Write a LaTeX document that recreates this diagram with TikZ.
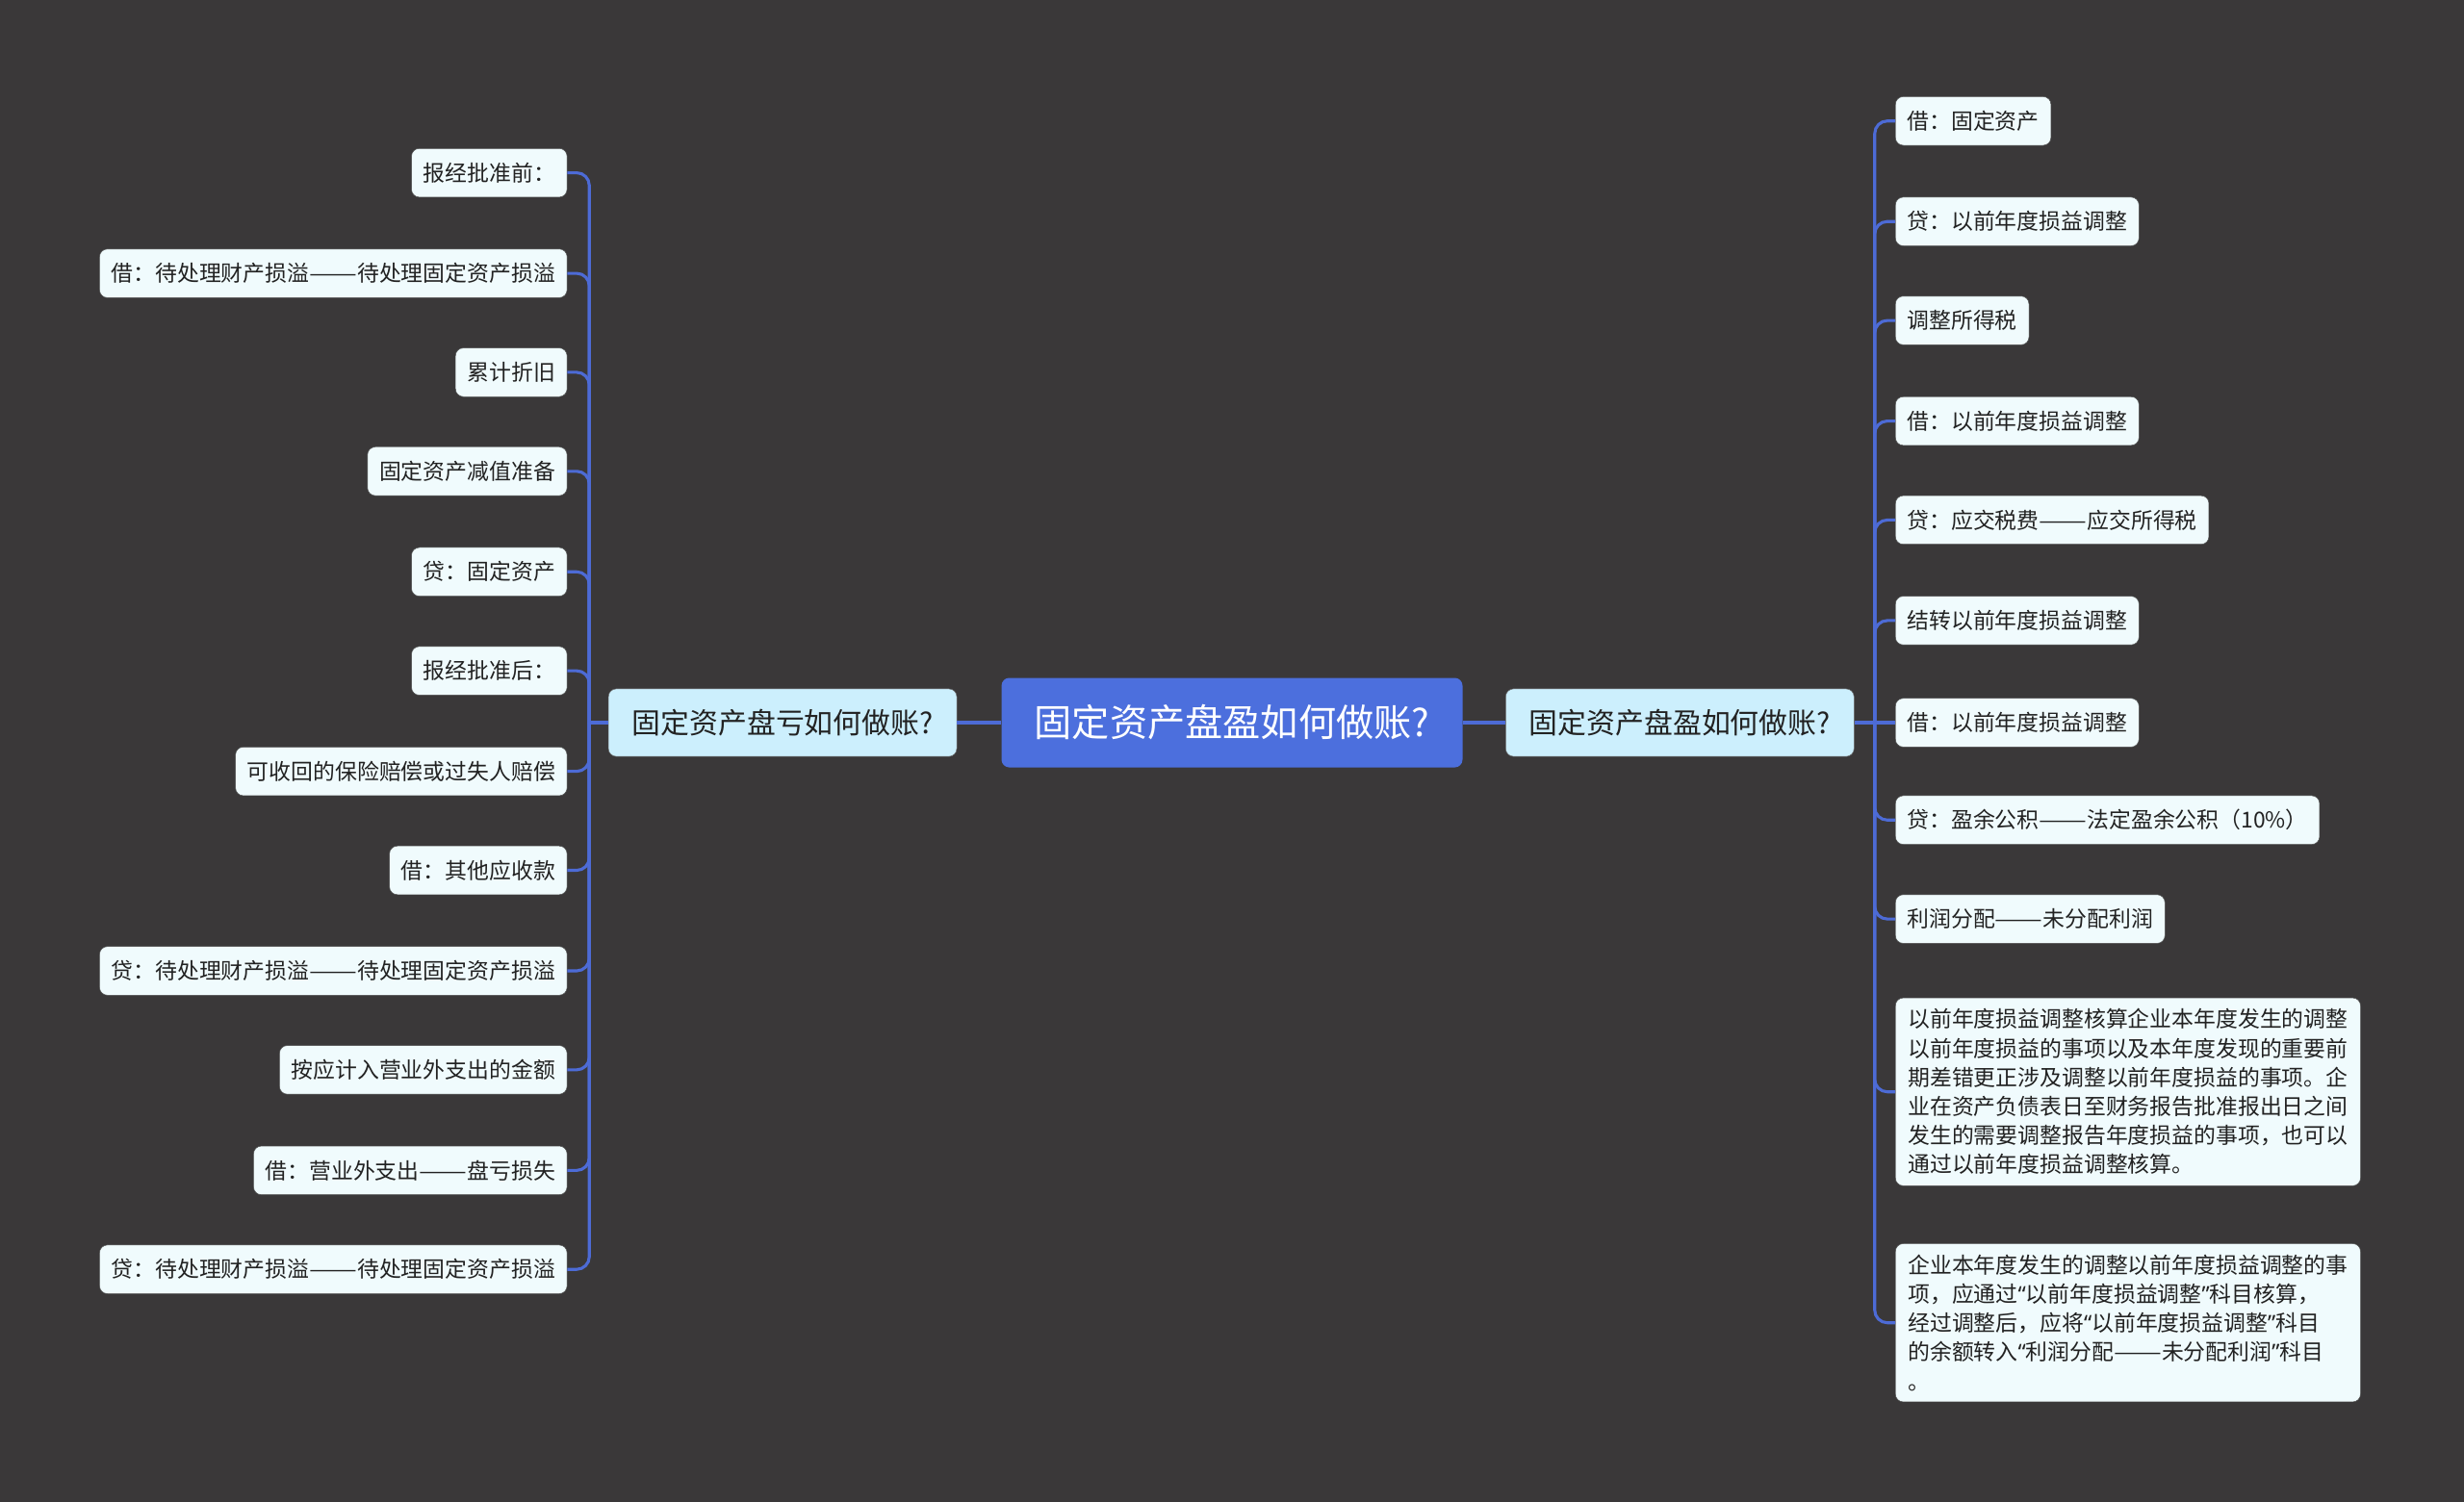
\documentclass[tikz,border=0pt]{standalone}
\usepackage{fontspec}
\usepackage{graphicx}
\setmainfont{Noto Sans CJK SC}
\newfontfamily\latinf{Noto Sans}
\newcommand{\dd}{\scalebox{1.3}[1]{——}}
\newcommand{\myoq}{{\latinf “}}
\newcommand{\mycq}{{\latinf ”}}
\definecolor{bg}{HTML}{3A3839}
\definecolor{rootblue}{HTML}{4C6FDD}
\definecolor{mainfill}{HTML}{CCEFFD}
\definecolor{leaffill}{HTML}{F0FBFD}
\definecolor{connblue}{HTML}{4D6BD6}
\definecolor{txt}{HTML}{222222}
\tikzset{
  leaf/.style={fill=leaffill, draw=black!70, line width=0.3pt, rounded corners=5pt, text=txt,
    font=\fontsize{14}{18.5}\selectfont, inner xsep=7.5pt, inner ysep=0pt, minimum height=31pt},
  para/.style={fill=leaffill, draw=black!70, line width=0.3pt, rounded corners=5pt, text=txt,
    font=\fontsize{14}{18.5}\selectfont, inner xsep=8pt, inner ysep=7pt, align=left},
  mainnode/.style={fill=mainfill, draw=black!60, line width=0.3pt, rounded corners=5pt, text=txt,
    font=\fontsize{18.3}{22}\selectfont, inner xsep=15pt, inner ysep=0pt, minimum height=43pt},
  rootnode/.style={fill=rootblue, rounded corners=5pt, text=white,
    font=\fontsize{24}{28}\selectfont, inner xsep=21pt, inner ysep=0pt, minimum height=57pt},
  conn/.style={draw=connblue, line width=1.9pt, rounded corners=8pt},
}
\begin{document}
\begin{tikzpicture}[x=1pt,y=-1pt]
\useasboundingbox[fill=bg] (0,0) rectangle (1568,956);
% center and main nodes
\node[rootnode] (root) at (784,460) {固定资产盘盈如何做账?};
\node[mainnode, anchor=east] (lm) at (609,460) {固定资产盘亏如何做账?};
\node[mainnode, anchor=west] (rm) at (958,460) {固定资产盘盈如何做账?};
% left leaves
\node[leaf, anchor=east] (l1) at (361,110) {报经批准前：};
\node[leaf, anchor=east] (l2) at (361,174) {借：待处理财产损溢\dd 待处理固定资产损溢};
\node[leaf, anchor=east] (l3) at (361,237) {累计折旧};
\node[leaf, anchor=east] (l4) at (361,300) {固定资产减值准备};
\node[leaf, anchor=east] (l5) at (361,364) {贷：固定资产};
\node[leaf, anchor=east] (l6) at (361,427) {报经批准后：};
\node[leaf, anchor=east] (l7) at (361,491) {可收回的保险赔偿或过失人赔偿};
\node[leaf, anchor=east] (l8) at (361,554) {借：其他应收款};
\node[leaf, anchor=east] (l9) at (361,618) {贷：待处理财产损溢\dd 待处理固定资产损溢};
\node[leaf, anchor=east] (l10) at (361,681) {按应计入营业外支出的金额};
\node[leaf, anchor=east] (l11) at (361,745) {借：营业外支出\dd 盘亏损失};
\node[leaf, anchor=east] (l12) at (361,808) {贷：待处理财产损溢\dd 待处理固定资产损溢};
% right leaves
\node[leaf, anchor=west] (r1) at (1206,77) {借：固定资产};
\node[leaf, anchor=west] (r2) at (1206,141) {贷：以前年度损益调整};
\node[leaf, anchor=west] (r3) at (1206,204) {调整所得税};
\node[leaf, anchor=west] (r4) at (1206,268) {借：以前年度损益调整};
\node[leaf, anchor=west] (r5) at (1206,331) {贷：应交税费\dd 应交所得税};
\node[leaf, anchor=west] (r6) at (1206,395) {结转以前年度损益调整};
\node[leaf, anchor=west] (r7) at (1206,460) {借：以前年度损益调整};
\node[leaf, anchor=west] (r8) at (1206,522) {贷：盈余公积\dd 法定盈余公积（10\%）};
\node[leaf, anchor=west] (r9) at (1206,585) {利润分配\dd 未分配利润};
\node[para, anchor=west] (r10) at (1206,695) {以前年度损益调整核算企业本年度发生的调整\\以前年度损益的事项以及本年度发现的重要前\\期差错更正涉及调整以前年度损益的事项。企\\业在资产负债表日至财务报告批准报出日之间\\发生的需要调整报告年度损益的事项，也可以\\通过以前年度损益调整核算。};
\node[para, anchor=west] (r11) at (1206,842) {企业本年度发生的调整以前年度损益调整的事\\项，应通过\myoq 以前年度损益调整\mycq 科目核算，\\经过调整后，应将\myoq 以前年度损益调整\mycq 科目\\的余额转入\myoq 利润分配\dd 未分配利润\mycq 科目\\。};
% connectors
\draw[conn] (root.west) -- (lm.east);
\draw[conn] (root.east) -- (rm.west);
\coordinate (ls) at (375,460);
\coordinate (rs) at (1193,460);
\draw[conn] (lm.west) -- (ls);
\draw[conn] (rm.east) -- (rs);
\foreach \i in {1,...,12} { \draw[conn] (ls) |- (l\i.east); }
\foreach \i in {1,2,3,4,5,6,8,9,10,11} { \draw[conn] (rs) |- (r\i.west); }
\draw[conn] (rs) -- (r7.west);
\end{tikzpicture}
\end{document}
